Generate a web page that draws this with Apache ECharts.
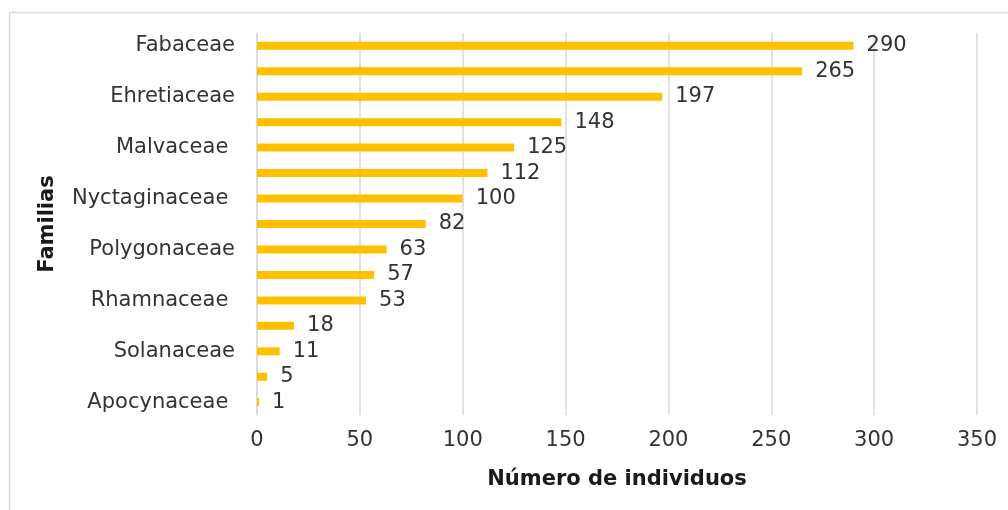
<!DOCTYPE html>
<html><head><meta charset="utf-8">
<script src="https://cdn.jsdelivr.net/npm/echarts@6/dist/echarts.min.js"></script>
<style>html,body{margin:0;padding:0;background:#fff}#c{width:1008px;height:510px}</style>
</head><body><div id="c"></div>
<script>
const categories = ['Fabaceae','','Ehretiaceae','','Malvaceae ','','Nyctaginaceae ','','Polygonaceae','','Rhamnaceae ','','Solanaceae','','Apocynaceae '];
const values = [290,265,197,148,125,112,100,82,63,57,53,18,11,5,1];
const xTicks = [0,50,100,150,200,250,300,350];
const xTitle = 'Número de individuos';
const yTitle = 'Familias';
const font = 'DejaVu Sans, Verdana, sans-serif';
const chart = echarts.init(document.getElementById('c'));
chart.setOption({
  animation:false,
  graphic:[{type:'rect',left:7,top:10,shape:{width:1020,height:520},style:{fill:'none',stroke:'#d9d9d9',lineWidth:1.5},z:-1}],
  grid:{left:257,right:31,top:33,bottom:95},
  xAxis:{type:'value',min:xTicks[0],max:xTicks[xTicks.length-1],interval:50,
    axisLine:{show:false},axisTick:{show:false},
    splitLine:{lineStyle:{color:'#d9d9d9',width:1.5}},
    axisLabel:{fontFamily:font,fontSize:21,color:'#333',margin:15},
    name:xTitle,nameLocation:'middle',nameGap:54,
    nameTextStyle:{fontFamily:font,fontSize:21,fontWeight:'bold',color:'#1a1a1a'}},
  yAxis:{type:'category',data:categories,inverse:true,
    axisLine:{lineStyle:{color:'#d9d9d9',width:1.5}},axisTick:{show:false},
    axisLabel:{interval:0,fontFamily:font,fontSize:21,color:'#333',margin:22},
    name:yTitle,nameLocation:'middle',nameGap:199,nameRotate:90,
    nameTextStyle:{fontFamily:font,fontSize:21,fontWeight:'bold',color:'#1a1a1a'}},
  series:[{type:'bar',data:values,barWidth:8,itemStyle:{color:'#ffc000'},
    label:{show:true,position:'right',distance:13,fontFamily:font,fontSize:21,color:'#333'}}]
});
</script></body></html>
